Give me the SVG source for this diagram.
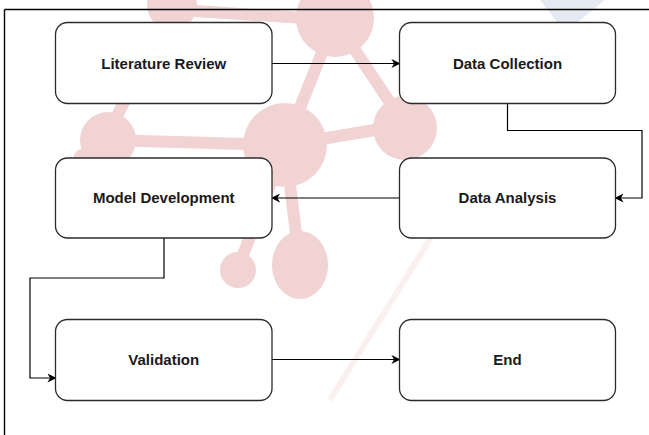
<svg xmlns="http://www.w3.org/2000/svg" width="649" height="435" viewBox="0 0 649 435">
<defs>
<style>
.box{fill:#fff;stroke:#2b2b2b;stroke-width:1.3}
.lbl{font-family:"Liberation Sans",Arial,sans-serif;font-weight:bold;font-size:15px;fill:#1a1a1a;text-anchor:middle}
.edge{fill:none;stroke:#000;stroke-width:1.2}
.wm{fill:#f1d3d3}
.wml{stroke:#f1d3d3;stroke-width:12;stroke-linecap:round}
</style>
<marker id="arr" viewBox="0 0 10 10" refX="9" refY="5" markerWidth="9" markerHeight="9" markerUnits="userSpaceOnUse" orient="auto">
<path d="M0,0 L10,5 L0,10 L3,5 z" fill="#000"/>
</marker>
</defs>
<rect width="649" height="435" fill="#fff"/>
<g id="watermark">
<line class="wml" x1="335" y1="20" x2="285" y2="145"/>
<line class="wml" x1="335" y1="20" x2="405" y2="125"/>
<line class="wml" x1="285" y1="145" x2="105" y2="140"/>
<line class="wml" x1="285" y1="145" x2="405" y2="125"/>
<line class="wml" x1="285" y1="145" x2="300" y2="265"/>
<line class="wml" x1="285" y1="145" x2="238" y2="268"/>
<line class="wml" x1="105" y1="140" x2="170" y2="10"/>
<line class="wml" x1="335" y1="20" x2="180" y2="10"/>
<circle class="wm" cx="335" cy="18" r="39"/>
<circle class="wm" cx="172" cy="5" r="25"/>
<circle class="wm" cx="285" cy="145" r="42"/>
<circle class="wm" cx="405" cy="128" r="32"/>
<circle class="wm" cx="108" cy="140" r="28"/>
<circle class="wm" cx="85" cy="160" r="12"/>
<ellipse class="wm" cx="300" cy="265" rx="28" ry="34"/>
<circle class="wm" cx="238" cy="270" r="18"/>
<line x1="445" y1="215" x2="330" y2="400" stroke="#fbf0f0" stroke-width="6"/>
<polygon points="540,0 605,0 565,32" fill="#e4e9f2"/>
</g>
<g id="frame">
<line x1="4.5" y1="9.5" x2="649" y2="9.5" stroke="#000" stroke-width="1.4"/>
<line x1="4.5" y1="9.5" x2="4.5" y2="435" stroke="#000" stroke-width="1.4"/>
</g>
<g id="connectors">
<path class="edge" d="M272,63.5 H399.5" marker-end="url(#arr)"/>
<path class="edge" d="M507.5,103.5 V130.5 H642 V198 H615.5" marker-end="url(#arr)"/>
<path class="edge" d="M399.5,198 H272" marker-end="url(#arr)"/>
<path class="edge" d="M164,238 V278 H30 V378 H55.5" marker-end="url(#arr)"/>
<path class="edge" d="M272,359.5 H399.5" marker-end="url(#arr)"/>
</g>
<g id="n1"><rect class="box" x="55.5" y="22.5" width="216.5" height="81" rx="12"/><text class="lbl" x="163.75" y="68.5">Literature Review</text></g>
<g id="n2"><rect class="box" x="399.5" y="22.5" width="216" height="81" rx="12"/><text class="lbl" x="507.5" y="68.5">Data Collection</text></g>
<g id="n3"><rect class="box" x="399.5" y="158" width="216" height="80" rx="12"/><text class="lbl" x="507.5" y="203">Data Analysis</text></g>
<g id="n4"><rect class="box" x="55.5" y="158" width="216.5" height="80" rx="12"/><text class="lbl" x="163.75" y="203">Model Development</text></g>
<g id="n5"><rect class="box" x="55.5" y="319.5" width="216.5" height="81" rx="12"/><text class="lbl" x="163.75" y="365">Validation</text></g>
<g id="n6"><rect class="box" x="399.5" y="319.5" width="216" height="81" rx="12"/><text class="lbl" x="507.5" y="365">End</text></g>
</svg>
